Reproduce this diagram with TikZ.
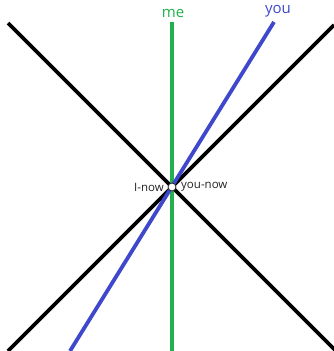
\documentclass[tikz,border=0pt]{standalone}
\usepackage{fontspec}
\setmainfont{Open Sans}
\definecolor{pgreen}{HTML}{22B14C}
\definecolor{pblue}{HTML}{3F48CC}
\definecolor{ptext}{HTML}{222222}
\begin{document}
\begin{tikzpicture}[x=1pt,y=-1pt,
  wl/.style={line width=3.8pt},
  lbl/.style={font=\fontsize{11.5}{13}\selectfont,text=ptext,inner sep=0pt},
  top/.style={font=\fontsize{15}{17}\selectfont,inner sep=0pt}]
\useasboundingbox (0,0) rectangle (334,351);
\coordinate (c) at (172,187);
\coordinate (tl) at (8,23);
\coordinate (br) at (336,351);
\coordinate (tr) at (334,25);
\coordinate (bl) at (8,351);
\coordinate (gt) at (172,22);
\coordinate (gb) at (172,351);
\coordinate (bt) at (274,22);
\coordinate (bb) at (70,351);
\draw[wl] (tl) -- (br);
\draw[wl] (tr) -- (bl);
\draw[wl,pgreen] (gt) -- (gb);
\draw[wl,pblue] (bt) -- (bb);
\node[circle,draw=ptext,fill=white,line width=0.8pt,minimum size=8pt,inner sep=0pt] (now) at (c) {};
\node[lbl,anchor=east] (inow) at (164,187) {I-now};
\node[lbl,anchor=west] (ynow) at (181,187) {you-now};
\node[top,text=pgreen] (me) at (173,13) {me};
\node[top,text=pblue] (you) at (278,11) {you};
\end{tikzpicture}
\end{document}
